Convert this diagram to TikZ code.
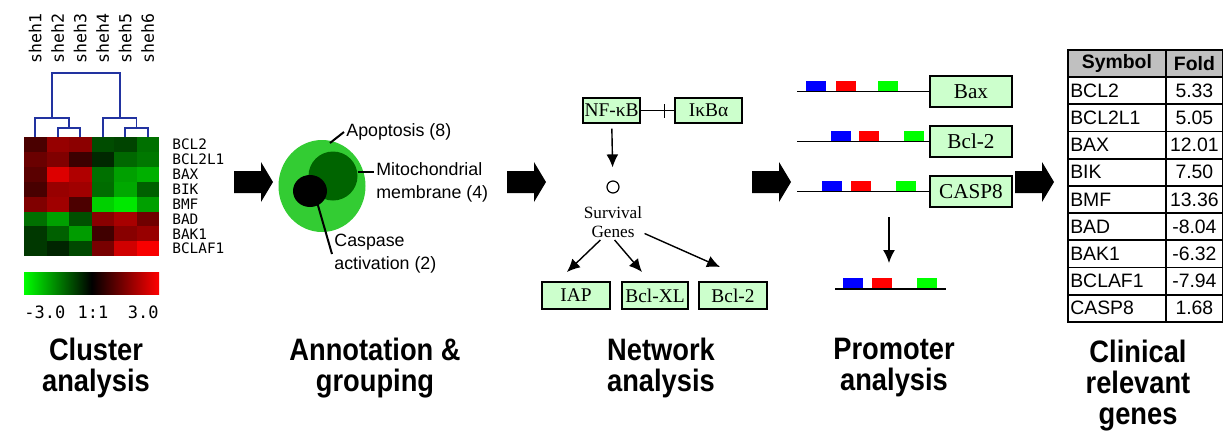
\documentclass[tikz,border=0pt]{standalone}
\usepackage{fontspec}
\setmainfont{Liberation Sans}
\newfontfamily\capfont{Liberation Sans}[FakeStretch=0.88]
\newfontfamily\genefont{Liberation Serif}
\newfontfamily\heatfont{DejaVu Sans Mono}
\usetikzlibrary{arrows.meta,positioning,calc,decorations.markings}
\definecolor{boxgreen}{HTML}{CCFFCC}
\definecolor{dendro}{HTML}{2233A0}
\definecolor{golite}{HTML}{33CC33}
\definecolor{godark}{HTML}{006400}
\definecolor{headgray}{HTML}{C0C0C0}

\tikzset{
  stage/.style={font=\capfont\fontsize{15.5}{15.5}\selectfont\bfseries, align=center},
  gene/.style={draw=black, fill=boxgreen, line width=0.7pt, minimum height=12.5pt,
    inner sep=0pt, font=\genefont\fontsize{9.7}{10}\selectfont},
  promo/.style={gene, minimum width=41pt, minimum height=15.5pt,
    font=\genefont\fontsize{10.6}{11}\selectfont},
  netarrow/.style={-{Latex[length=6.5pt,width=6pt]}, line width=0.7pt},
  inhib/.style={line width=0.7pt, postaction={decorate},
    decoration={markings, mark=at position -5pt with {\draw[line width=0.7pt] (0,-3.5pt) -- (0,3.5pt);}}},
  dna/.style={line width=0.7pt},
  tree/.style={dendro, line width=0.9pt},
  rowlab/.style={font=\heatfont\fontsize{7.2}{8}\selectfont, inner sep=0pt, anchor=west},
  collab/.style={font=\heatfont\fontsize{8.3}{9}\selectfont, inner sep=0pt, rotate=90, anchor=west},
  barlab/.style={font=\heatfont\fontsize{8.5}{9}\selectfont, inner sep=0pt},
  lead/.style={line width=1pt},
  venntxt/.style={font=\fontsize{8.9}{11.5}\selectfont, align=left, inner sep=1pt},
  cellsym/.style={draw, line width=0.9pt, anchor=north west, minimum height=13.6pt,
    inner ysep=0pt, inner xsep=1.2pt, text width=46.6pt, align=left,
    font=\fontsize{9.7}{10}\selectfont},
  cellfold/.style={cellsym, text width=26.1pt, align=center},
}

\begin{document}
\begin{tikzpicture}[x=0.5pt, y=-0.5pt]
\useasboundingbox (0,0) rectangle (1223,430);

% --- cluster analysis: heat map
\foreach \c [count=\k from 0] in {
  4A0000,960000,8C0000,004C00,004400,007000,
  6A0000,800000,3C0000,002800,006800,007800,
  5A0000,DD0000,B00000,007000,00A000,00B000,
  480000,980000,A00000,006C00,00A800,006000,
  800000,A00000,4C0000,00D000,00E800,00A000,
  007000,00A000,005000,880000,A80000,700000,
  003800,006000,009C00,400000,880000,980000,
  003800,002400,004800,780000,D00000,F80000} {
  \pgfmathtruncatemacro{\cx}{mod(\k,6)}
  \pgfmathtruncatemacro{\cy}{div(\k,6)}
  \definecolor{cell}{HTML}{\c}
  \fill[cell] ({24+22.5*\cx},{137+14.9*\cy}) rectangle ++(22.5,14.9);
}
\foreach \g [count=\k from 0] in {BCL2,BCL2L1,BAX,BIK,BMF,BAD,BAK1,BCLAF1}
  \node[rowlab] (hm\k) at (172,{137+14.9*(\k+0.5)}) {\g};
\foreach \k in {1,...,6}
  \node[collab] (sh\k) at ({24+22.5*(\k-0.5)},64) {sheh\k};

% dendrogram over the columns
\draw[tree] (57.75,137) -- (57.75,128) -- (80.25,128) -- (80.25,137);
\draw[tree] (35.25,137) -- (35.25,118) -- (69,118) -- (69,128);
\draw[tree] (125.25,137) -- (125.25,128) -- (147.75,128) -- (147.75,137);
\draw[tree] (102.75,137) -- (102.75,118) -- (136.5,118) -- (136.5,128);
\draw[tree] (52,118) -- (52,73) -- (119.6,73) -- (119.6,118);

% colour key
\shade[left color=green, right color=red, middle color=black] (24,272) rectangle (159,294);
\node[barlab, anchor=west] (kmin) at (24,312) {-3.0};
\node[barlab] (kmid) at (93,312) {1:1};
\node[barlab, anchor=east] (kmax) at (159,312) {3.0};

% --- block arrows between the stages
\foreach \ax in {234,507,752,1015}
  \fill (\ax,171) -- ++(27,0) -- ++(0,-9) -- ++(12,20) -- ++(-12,20) -- ++(0,-9) -- ++(-27,0) -- cycle;

% --- annotation & grouping
\fill[golite] (322,186) ellipse [x radius=43.5, y radius=46];
\fill[godark] (333,176) circle [radius=24.5];
\fill[black] (310,191) ellipse [x radius=17, y radius=16];
\node[venntxt, anchor=west] (apop) at (344,132) {Apoptosis (8)};
\node[venntxt, anchor=north west] (mito) at (374,160) {Mitochondrial\\membrane (4)};
\node[venntxt, anchor=west] (casp) at (332,254) {Caspase\\activation (2)};
\coordinate (apopdot) at (330,143);
\coordinate (mitodot) at (358,172);
\coordinate (caspdot) at (317,202);
\draw[lead] (apopdot) -- (apop.west);
\draw[lead] (mitodot) -- (mitodot -| mito.west);
\draw[lead] (caspdot) -- (casp.west);

% --- network analysis
\node[gene, minimum width=28.5pt] (nfkb) at (611.5,110.5) {NF-κB};
\node[gene, minimum width=33.5pt] (ikba) at (708.5,110.5) {IκBα};
\draw[inhib] (nfkb) -- (ikba);
\node[circle, draw, line width=0.6pt, minimum size=6pt, inner sep=0pt] (surv) at (613,187) {};
\node[font=\genefont\fontsize{8.6}{9.5}\selectfont, align=center, inner sep=1pt] (genes) at (613,222) {Survival\\Genes};
\draw[netarrow, shorten <=2.5pt, shorten >=6.5pt] (nfkb) -- (surv);
\node[gene, minimum width=34pt, minimum height=13.5pt] (iap) at (576,295.5) {IAP};
\node[gene, minimum width=33pt, minimum height=13.5pt] (bclxl) at (655,295.5) {Bcl-XL};
\node[gene, minimum width=34pt, minimum height=13.5pt] (bcl2n) at (733,295.5) {Bcl-2};
\coordinate (tipa) at (567,272);
\coordinate (tipb) at (642,272);
\coordinate (tipc) at (720,267);
\draw[netarrow] (genes.-125) -- (tipa);
\draw[netarrow] (genes.-85) -- (tipb);
\draw[netarrow] (genes.-20) -- (tipc);

% --- promoter analysis
\node[promo] (bax) at (971,91.5) {Bax};
\node[promo] (bcl2p) at (971,141.5) {Bcl-2};
\node[promo] (casp8) at (971,191.5) {CASP8};
\foreach \y/\b/\r/\g/\nm in {91.5/806/836/878/bax, 141.5/831/859/904/bcl2p, 191.5/822/851/896/casp8} {
  \fill[blue] (\b,\y-11) rectangle ++(20,11);
  \fill[red] (\r,\y-11) rectangle ++(20,11);
  \fill[green] (\g,\y-11) rectangle ++(20,11);
  \coordinate (start-\nm) at (797,\y);
  \draw[dna] (start-\nm) -- (\nm.west);
}
\coordinate (pdown1) at (889,217);
\coordinate (pdown2) at (889,263);
\draw[netarrow] (pdown1) -- (pdown2);
\fill[blue] (843,278) rectangle ++(20,11);
\fill[red] (872,278) rectangle ++(20,11);
\fill[green] (917,278) rectangle ++(20,11);
\coordinate (pout1) at (835,289);
\coordinate (pout2) at (946,289);
\draw[dna] (pout1) -- (pout2);

% --- clinical relevant genes table
\node[cellsym, fill=headgray, font=\fontsize{9.7}{10}\selectfont\bfseries, align=center] (sym0) at (1067,49) {Symbol};
\node[cellfold, fill=headgray, font=\fontsize{9.7}{10}\selectfont\bfseries] (fold0) at (1165,49) {Fold};
\foreach \s/\f [count=\r] in {BCL2/5.33, BCL2L1/5.05, BAX/12.01, BIK/7.50, BMF/13.36,
    BAD/-8.04, BAK1/-6.32, BCLAF1/-7.94, CASP8/1.68} {
  \node[cellsym] (sym\r) at (1067,{49+27.2*\r}) {\s};
  \node[cellfold] (fold\r) at (1165,{49+27.2*\r}) {\f};
}

% --- stage captions
\node[stage] (cap1) at (96,368) {Cluster\\analysis};
\node[stage] (cap2) at (375,368) {Annotation \&\\grouping};
\node[stage] (cap3) at (661,368) {Network\\analysis};
\node[stage] (cap4) at (894,368) {Promoter\\analysis};
\node[stage] (cap5) at (1138,386) {Clinical\\relevant\\genes};
\end{tikzpicture}
\end{document}
